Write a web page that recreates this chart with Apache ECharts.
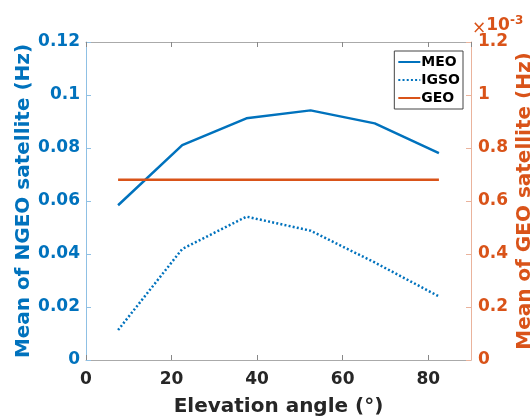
<!DOCTYPE html>
<html><head><meta charset="utf-8">
<script src="https://cdn.jsdelivr.net/npm/echarts@6/dist/echarts.min.js"></script>
<style>html,body{margin:0;padding:0;background:#fff}#c{width:530px;height:419px}</style>
</head><body><div id="c"></div>
<script>
const elevation = [7.5, 22.5, 37.5, 52.5, 67.5, 82.5];
const meo = [0.0584, 0.0811, 0.0912, 0.0942, 0.0893, 0.0781];
const igso = [0.0113, 0.0419, 0.0541, 0.0488, 0.0368, 0.0240];
const geo = [0.68, 0.68, 0.68, 0.68, 0.68, 0.68]; // x10^-3
const xTicks = [0, 20, 40, 60, 80];

const BLUE = '#0072BD', ORANGE = '#D95319', DARK = '#262626';
const FONT = 'DejaVu Sans';
const pair = (xs, ys) => xs.map((x, i) => [x, ys[i]]);

const chart = echarts.init(document.getElementById('c'));
chart.setOption({
  animation: false,
  textStyle: {fontFamily: FONT},
  grid: {left: 86, right: 59, top: 42, bottom: 59, containLabel: false, outerBoundsMode: 'none'},
  legend: {
    orient: 'vertical', right: 67, top: 51,
    backgroundColor: '#fff', borderColor: '#444', borderWidth: 1,
    padding: [4, 3, 4, 3], itemGap: 4, itemWidth: 22, itemHeight: 16,
    itemStyle: {opacity: 0},
    textStyle: {fontFamily: FONT, fontWeight: 'bold', fontSize: 14, color: '#000', padding: [0, 0, 0, -4]},
    data: ['MEO', 'IGSO', 'GEO']
  },
  xAxis: [{
    type: 'value', min: 0, max: 90, interval: 20, position: 'bottom',
    name: 'Elevation angle (°)', nameLocation: 'middle', nameGap: 37, nameMoveOverlap: false,
    nameTextStyle: {fontFamily: FONT, fontWeight: 'bold', fontSize: 20, color: DARK},
    axisLine: {onZero: false, lineStyle: {color: '#aaa', width: 1}},
    axisTick: {inside: true, length: 5, lineStyle: {color: '#888'}},
    axisLabel: {showMaxLabel: false, fontFamily: FONT, fontWeight: 'bold', fontSize: 17, color: DARK, margin: 11,
      formatter: v => xTicks.includes(v) ? String(v) : ''},
    splitLine: {show: false}
  }, {
    type: 'value', min: 0, max: 90, interval: 20, position: 'top',
    axisLine: {show: true, onZero: false, lineStyle: {color: '#aaa', width: 1}},
    axisTick: {show: true, inside: true, length: 5, lineStyle: {color: '#888'}},
    axisLabel: {show: false}, splitLine: {show: false}
  }],
  yAxis: [{
    type: 'value', min: 0, max: 0.12, interval: 0.02, position: 'left',
    name: 'Mean of NGEO satellite (Hz)', nameLocation: 'middle', nameGap: 52, nameRotate: 90, nameMoveOverlap: false,
    nameTextStyle: {fontFamily: FONT, fontWeight: 'bold', fontSize: 20, color: BLUE},
    axisLine: {show: true, onZero: false, lineStyle: {color: '#8fc0e4', width: 1}},
    axisTick: {show: true, inside: true, length: 5, lineStyle: {color: '#8fc0e4'}},
    axisLabel: {fontFamily: FONT, fontWeight: 'bold', fontSize: 17, color: BLUE, margin: 6,
      formatter: v => String(+v.toFixed(2))},
    splitLine: {show: false}
  }, {
    type: 'value', min: 0, max: 1.2, interval: 0.2, position: 'right',
    name: 'Mean of GEO satellite (Hz)', nameLocation: 'middle', nameGap: 44, nameRotate: 90, nameMoveOverlap: false,
    nameTextStyle: {fontFamily: FONT, fontWeight: 'bold', fontSize: 20, color: ORANGE},
    axisLine: {show: true, onZero: false, lineStyle: {color: '#eab39c', width: 1}},
    axisTick: {show: true, inside: true, length: 5, lineStyle: {color: '#eab39c'}},
    axisLabel: {fontFamily: FONT, fontWeight: 'bold', fontSize: 17, color: ORANGE, margin: 7,
      formatter: v => String(+v.toFixed(1))},
    splitLine: {show: false}
  }],
  graphic: [{
    type: 'text', left: 472, top: 15,
    style: {
      text: '{x|×}{b|10}{s|-3}',
      rich: {
        x: {fontFamily: FONT, fontSize: 17, fill: ORANGE, verticalAlign: 'bottom', padding: [2, 0, 0, 0]},
        b: {fontFamily: FONT, fontWeight: 'bold', fontSize: 17, fill: ORANGE},
        s: {fontFamily: FONT, fontWeight: 'bold', fontSize: 12, fill: ORANGE, verticalAlign: 'top', padding: [0, 0, 10, 0]}
      }
    }
  }],
  series: [{
    name: 'MEO', type: 'line', xAxisIndex: 0, yAxisIndex: 0, data: pair(elevation, meo),
    symbol: 'none', lineStyle: {color: BLUE, width: 2.5}, itemStyle: {color: BLUE}
  }, {
    name: 'IGSO', type: 'line', xAxisIndex: 0, yAxisIndex: 0, data: pair(elevation, igso),
    symbol: 'none', lineStyle: {color: BLUE, width: 2.5, type: [2, 2.2]}, itemStyle: {color: BLUE}
  }, {
    name: 'GEO', type: 'line', xAxisIndex: 0, yAxisIndex: 1, data: pair(elevation, geo),
    symbol: 'none', lineStyle: {color: ORANGE, width: 2.5}, itemStyle: {color: ORANGE}
  }]
});
</script></body></html>
